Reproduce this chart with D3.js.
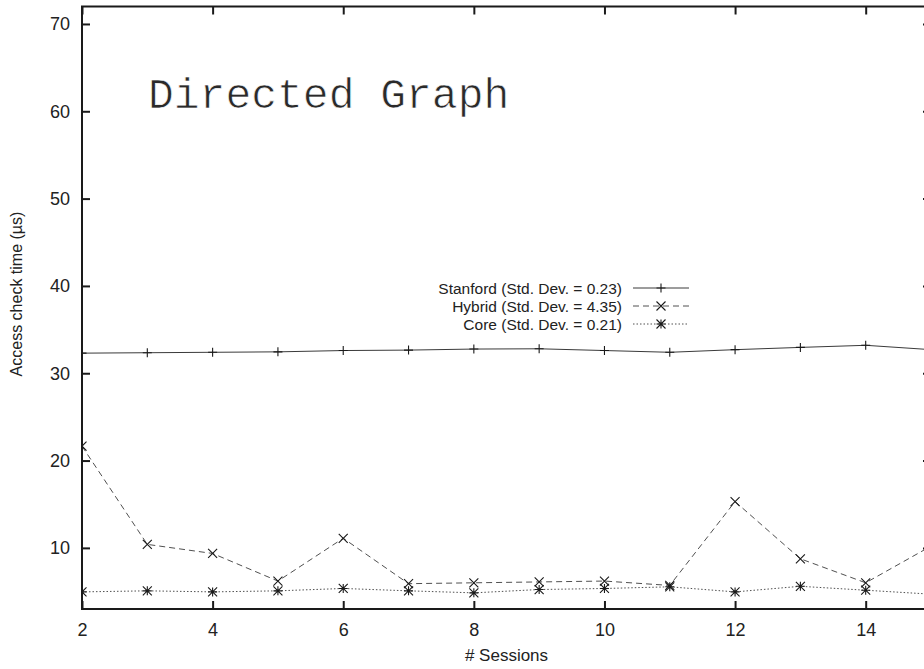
<!DOCTYPE html>
<html>
<head>
<meta charset="utf-8">
<script src="https://cdn.jsdelivr.net/npm/d3@7"></script>
<style>
  html, body { margin: 0; padding: 0; background: #fff; }
  svg { display: block; }
</style>
</head>
<body>
<svg id="chart" width="924" height="669"></svg>
<script>
// Session counts on the x axis
const sessions = [2, 3, 4, 5, 6, 7, 8, 9, 10, 11, 12, 13, 14, 15];

// Access check time per configuration (µs)
const stanford = [32.3, 32.35, 32.4, 32.45, 32.6, 32.65, 32.77, 32.8, 32.6, 32.4, 32.7, 32.96, 33.2, 32.7];
const hybrid   = [21.65, 10.4, 9.36, 6.2, 11.1, 5.9, 6.0, 6.1, 6.2, 5.7, 15.3, 8.75, 6.0, 10.2];
const core     = [4.96, 5.08, 4.96, 5.08, 5.35, 5.08, 4.85, 5.23, 5.35, 5.54, 4.96, 5.6, 5.15, 4.7];

const seriesNames = ["Stanford (Std. Dev. = 0.23)", "Hybrid (Std. Dev. = 4.35)", "Core (Std. Dev. = 0.21)"];

const xTicks = [2, 4, 6, 8, 10, 12, 14];
const yTicks = [10, 20, 30, 40, 50, 60, 70];

const svg = d3.select("#chart");
const plot = { left: 82, right: 931, top: 6.5, bottom: 609 };

const x = d3.scaleLinear().domain([2, 15]).range([plot.left, plot.right]);
const y = d3.scaleLinear().domain([3, 72]).range([plot.bottom, plot.top]);

const sans = "Liberation Sans, Arial, sans-serif";
const ink = "#1a1a1a";
const textInk = "#222";
const tickLen = 8;
const fs = 18;

// Series styles: solid with +, dashed with x, dotted with *
const styles = [
  { data: stanford, dash: null, marker: "plus", color: "#3a3a3a" },
  { data: hybrid, dash: "6,4", marker: "cross", color: "#505050" },
  { data: core, dash: "1.5,2", marker: "star", color: "#505050" }
];

function drawMarker(g, type, cx, cy, color) {
  const r = 4.5;
  const p = d3.path();
  if (type === "plus" || type === "star") {
    p.moveTo(cx - r, cy); p.lineTo(cx + r, cy);
    p.moveTo(cx, cy - r); p.lineTo(cx, cy + r);
  }
  if (type === "cross" || type === "star") {
    p.moveTo(cx - r, cy - r); p.lineTo(cx + r, cy + r);
    p.moveTo(cx - r, cy + r); p.lineTo(cx + r, cy - r);
  }
  g.append("path").attr("d", p.toString())
    .attr("stroke", color).attr("stroke-width", 1.1).attr("fill", "none");
}

// Clip data to the plot frame
svg.append("defs").append("clipPath").attr("id", "plotclip")
  .append("rect").attr("x", plot.left).attr("y", plot.top)
  .attr("width", plot.right - plot.left).attr("height", plot.bottom - plot.top);

const dataG = svg.append("g").attr("clip-path", "url(#plotclip)");

const line = d3.line().x((d, i) => x(sessions[i])).y(d => y(d));

styles.forEach(s => {
  dataG.append("path")
    .datum(s.data)
    .attr("d", line)
    .attr("fill", "none")
    .attr("stroke", s.color)
    .attr("stroke-width", 1)
    .attr("stroke-dasharray", s.dash);
  s.data.forEach((v, i) => drawMarker(dataG, s.marker, x(sessions[i]), y(v), ink));
});

// Frame
svg.append("rect")
  .attr("x", plot.left).attr("y", plot.top)
  .attr("width", plot.right - plot.left).attr("height", plot.bottom - plot.top)
  .attr("fill", "none").attr("stroke", ink).attr("stroke-width", 2);

function styleTicks(g) {
  g.select(".domain").remove();
  g.selectAll(".tick line").attr("stroke", ink).attr("stroke-width", 2);
  g.selectAll(".tick text")
    .style("font-family", sans).style("font-size", fs + "px").attr("fill", textInk);
}

// Y axis (left) with mirrored ticks on the right
const yg = svg.append("g").attr("transform", `translate(${plot.left},0)`)
  .call(d3.axisLeft(y).tickValues(yTicks).tickSize(-tickLen).tickPadding(12).tickFormat(d3.format("d")));
styleTicks(yg);

const yrg = svg.append("g").attr("transform", `translate(${plot.right},0)`)
  .call(d3.axisRight(y).tickValues(yTicks).tickSize(-tickLen).tickFormat(""));
styleTicks(yrg);

// X axis (bottom) with mirrored ticks on top
const xg = svg.append("g").attr("transform", `translate(0,${plot.bottom})`)
  .call(d3.axisBottom(x).tickValues(xTicks).tickSize(-tickLen).tickPadding(14).tickFormat(d3.format("d")));
styleTicks(xg);

const xtg = svg.append("g").attr("transform", `translate(0,${plot.top})`)
  .call(d3.axisTop(x).tickValues(xTicks).tickSize(-tickLen).tickFormat(""));
styleTicks(xtg);

// Axis titles
svg.append("text")
  .attr("x", (plot.left + plot.right) / 2).attr("y", 661)
  .attr("text-anchor", "middle")
  .style("font-family", sans).style("font-size", "17px").attr("fill", textInk)
  .text("# Sessions");

svg.append("text")
  .attr("transform", `translate(22,294) rotate(-90)`)
  .attr("text-anchor", "middle")
  .style("font-family", sans).style("font-size", "16px").attr("fill", textInk)
  .text("Access check time (µs)");

// Chart label
svg.append("text")
  .attr("x", 148).attr("y", 108)
  .style("font-family", "Liberation Mono, Courier New, monospace")
  .style("font-size", "43px")
  .attr("fill", "#2a2a2a")
  .attr("stroke", "#fff").attr("stroke-width", 0.7)
  .style("paint-order", "fill")
  .text("Directed Graph");

// Legend
const legend = svg.append("g");
const legendY = [288, 306, 324];
seriesNames.forEach((name, i) => {
  const ly = legendY[i];
  legend.append("text")
    .attr("x", 622).attr("y", ly + 6)
    .attr("text-anchor", "end")
    .style("font-family", sans).style("font-size", "15.5px").attr("fill", textInk)
    .text(name);
  legend.append("line")
    .attr("x1", 633).attr("x2", 689).attr("y1", ly).attr("y2", ly)
    .attr("stroke", styles[i].color).attr("stroke-width", 1)
    .attr("stroke-dasharray", styles[i].dash);
  drawMarker(legend, styles[i].marker, 661, ly, ink);
});
</script>
</body>
</html>
